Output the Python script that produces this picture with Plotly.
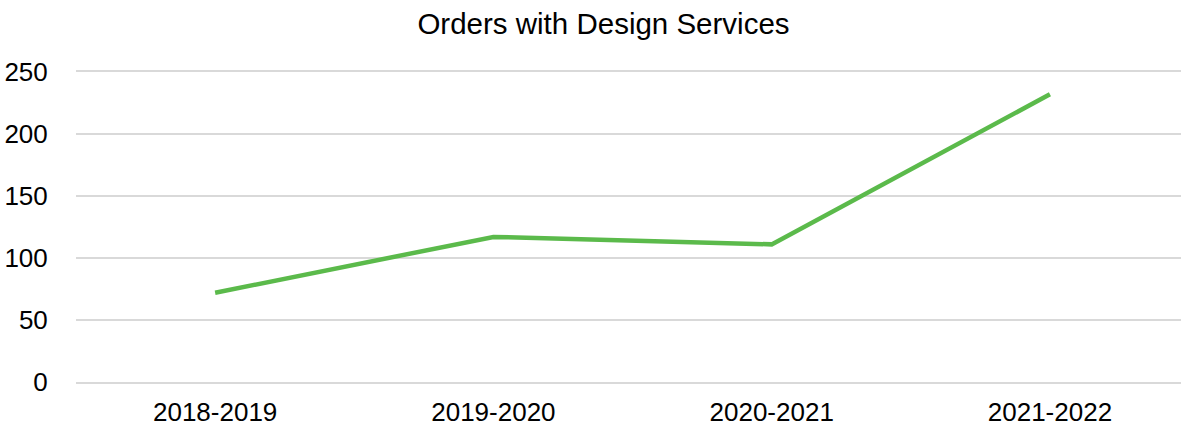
import plotly.graph_objects as go

categories = ["2018-2019", "2019-2020", "2020-2021", "2021-2022"]
orders = [72, 117, 111, 232]
y_ticks = [0, 50, 100, 150, 200, 250]

fig = go.Figure()
fig.add_trace(go.Scatter(
    x=categories, y=orders, mode="lines",
    line=dict(color="#5BBA4B", width=4.5),
    hoverinfo="x+y",
))

fig.update_layout(
    width=1181, height=426,
    margin=dict(l=76, r=0, t=72, b=44),
    paper_bgcolor="white", plot_bgcolor="white",
    showlegend=False,
    title=dict(text="Orders with Design Services", x=0.511, xanchor="center",
               yref="container", y=1 - 24 / 426, yanchor="middle",
               font=dict(family="Liberation Sans, Arial", size=29.5, color="#000000")),
    font=dict(family="Liberation Sans, Arial", size=26, color="#000000"),
)
fig.update_xaxes(
    type="category", range=[-0.5, 3.471], automargin=False,
    showgrid=False, zeroline=False,
    showline=True, mirror=True, linecolor="#D9D9D9", linewidth=1.5,
    ticks="outside", ticklen=6, tickcolor="rgba(0,0,0,0)",
    tickfont=dict(size=26),
)
fig.update_yaxes(
    range=[0, 250], tickvals=y_ticks, automargin=False,
    showgrid=True, gridcolor="#D9D9D9", gridwidth=1.5,
    zeroline=False, showline=False,
    ticks="outside", ticklen=22, tickcolor="rgba(0,0,0,0)",
    tickfont=dict(size=26),
)

fig.write_html("out.html")
